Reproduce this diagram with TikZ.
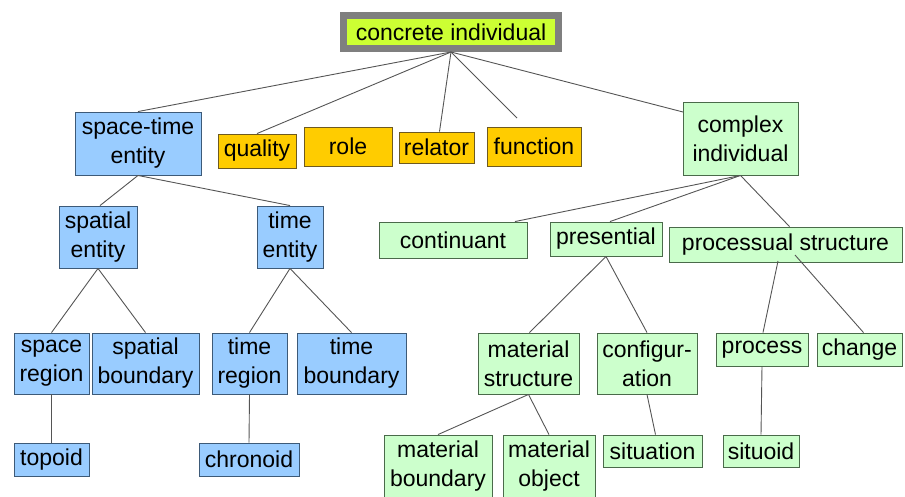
\documentclass[tikz,border=0pt]{standalone}
\usepackage{fontspec}
\setmainfont{Liberation Sans}
\definecolor{bluefill}{HTML}{99CCFF}
\definecolor{blueline}{HTML}{3D5A78}
\definecolor{orangefill}{HTML}{FFCC00}
\definecolor{orangeline}{HTML}{6E5A20}
\definecolor{greenfill}{HTML}{CCFFCC}
\definecolor{greenline}{HTML}{4A6A4A}
\definecolor{limefill}{HTML}{CCFF33}
\definecolor{grayframe}{HTML}{7F7F7F}
\definecolor{edgecol}{HTML}{555555}
\tikzset{
  boxbase/.style={rectangle, draw, line width=0.9pt, inner sep=0pt, align=center,
    font=\fontsize{23}{29}\selectfont, text=black},
  bluebox/.style={boxbase, fill=bluefill, draw=blueline},
  orangebox/.style={boxbase, fill=orangefill, draw=orangeline},
  greenbox/.style={boxbase, fill=greenfill, draw=greenline},
  topbox/.style={boxbase, fill=limefill, draw=grayframe, line width=7pt},
  edge/.style={draw=edgecol, line width=0.9pt}
}
\newcommand{\bx}[7]{%
  \node[#2, minimum width={(#4-#3)*1pt}, minimum height={(#6-#5)*1pt}]
    (#1) at ({(#3+#4)/2},{(#5+#6)/2}) {#7};}
\begin{document}
\begin{tikzpicture}[x=1pt,y=-1pt]
\useasboundingbox (0,0) rectangle (905,496);
% edges first (behind boxes)
\coordinate (cis) at (453,49);
\coordinate (fnend) at (517,118);
\coordinate (cxend) at (683,112);
\coordinate (cxs) at (740,174);
\coordinate (psa) at (778,261);
\coordinate (psb) at (795,255);
% nodes
\bx{ci}{topbox}{343.5}{558.5}{15.5}{48.5}{concrete individual}
\bx{ste}{bluebox}{75}{201}{112}{175}{space-time\\entity}
\bx{quality}{orangebox}{218}{296}{134}{168}{quality}
\bx{role}{orangebox}{304}{392}{127}{166}{role}
\bx{relator}{orangebox}{399}{474}{132}{163}{relator}
\bx{function}{orangebox}{487}{581}{127}{166}{function}
\bx{cplx}{greenbox}{683}{798}{102}{175}{complex\\individual}
\bx{se}{bluebox}{59}{137}{206}{268}{spatial\\entity}
\bx{te}{bluebox}{257}{323}{206}{268}{time\\entity}
\bx{cont}{greenbox}{379}{527}{222}{258}{continuant}
\bx{pres}{greenbox}{550}{662}{222}{256}{presential}
\bx{proc}{greenbox}{669}{902}{227}{262}{processual structure}
\bx{sr}{bluebox}{14}{89}{333}{394}{space\\region}
\bx{sb}{bluebox}{92}{199}{333}{394}{spatial\\boundary}
\bx{tr}{bluebox}{212}{287}{333}{394}{time\\region}
\bx{tb}{bluebox}{297}{406}{333}{394}{time\\boundary}
\bx{ms}{greenbox}{478}{579}{333}{394}{material\\structure}
\bx{conf}{greenbox}{597}{697}{333}{394}{configur-\\ation}
\bx{process}{greenbox}{716}{808}{333}{366}{process}
\bx{change}{greenbox}{817}{902}{333}{366}{change}
\bx{topoid}{bluebox}{14}{89}{443}{476}{topoid}
\bx{chronoid}{bluebox}{199}{299}{443}{476}{chronoid}
\bx{mb}{greenbox}{384}{492}{435}{498}{material\\boundary}
\bx{mo}{greenbox}{503}{595}{435}{498}{material\\object}
\bx{sit}{greenbox}{603}{702}{435}{467}{situation}
\bx{situoid}{greenbox}{723}{799}{435}{467}{situoid}
% connectors
\begin{scope}[edge]
\draw (ci.south) -- (ste.north);
\draw (ci.south) -- (quality.north);
\draw (ci.south) -- ([xshift=3pt]relator.north);
\draw (ci.south) -- (fnend);
\draw (ci.south) -- (cxend);
\draw (ste.south) -- ([xshift=2pt]se.north);
\draw (ste.south) -- (te.north);
\draw (se.south) -- (sr.north);
\draw (se.south) -- (sb.north);
\draw (te.south) -- (tr.north);
\draw (te.south) -- (tb.north);
\draw (sr.south) -- (topoid.north);
\draw (tr.south) -- (chronoid.north);
\draw (cplx.south) -- ([xshift=62pt]cont.north);
\draw (cplx.south) -- ([xshift=4pt]pres.north);
\draw (cplx.south) -- ([xshift=4pt]proc.north);
\draw (pres.south) -- ([xshift=1pt]ms.north);
\draw (pres.south) -- (conf.north);
\draw (psa) -- ([xshift=1pt]process.north);
\draw (psb) -- ([xshift=4pt]change.north);
\draw (ms.south) -- (mb.north);
\draw (ms.south) -- (mo.north);
\draw (conf.south) -- ([xshift=3pt]sit.north);
\draw (process.south) -- (situoid.north);
\end{scope}
\end{tikzpicture}
\end{document}
